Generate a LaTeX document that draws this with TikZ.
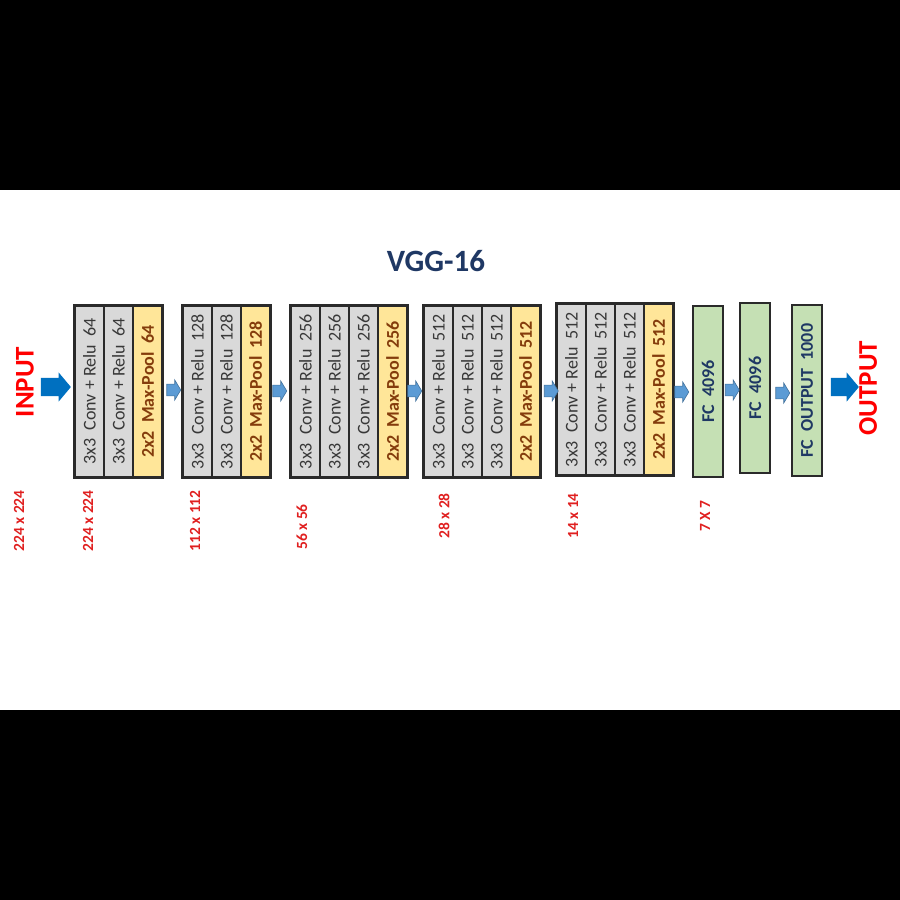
\documentclass[tikz,border=0pt]{standalone}
\usepackage{fontspec}
\setmainfont{Carlito}
\usetikzlibrary{shapes.arrows,fit}
\definecolor{convfill}{HTML}{D9D9D9}
\definecolor{convtext}{HTML}{383838}
\definecolor{poolfill}{HTML}{FFE699}
\definecolor{pooltext}{HTML}{843C0C}
\definecolor{fcfill}{HTML}{C5E0B4}
\definecolor{fctext}{HTML}{1F3864}
\definecolor{boxline}{HTML}{2A2A2A}
\definecolor{bigblue}{HTML}{0070C0}
\definecolor{smallblue}{HTML}{5B9BD5}
\definecolor{smallline}{HTML}{41719C}
\definecolor{dimred}{HTML}{E02020}
\definecolor{titlecol}{HTML}{1F3864}
\begin{document}
\begin{tikzpicture}[x=1pt,y=-1pt,
  col/.style={draw=boxline, line width=1.2pt, rotate=90, minimum width=171pt,
    minimum height=29pt, inner sep=0pt, anchor=center},
  conv/.style={col, fill=convfill, text=convtext, font=\fontsize{18}{18}\selectfont},
  pool/.style={col, fill=poolfill, text=pooltext, font=\fontsize{18}{18}\selectfont\bfseries},
  fcbox/.style={col, fill=fcfill, text=fctext, minimum height=30pt, line width=2pt,
    font=\fontsize{18}{18}\selectfont\bfseries},
  outerbox/.style={draw=boxline, line width=2pt, inner sep=0pt},
  dimlabel/.style={rotate=90, text=dimred, font=\fontsize{15.5}{15.5}\selectfont\bfseries, inner sep=0pt},
  iolabel/.style={rotate=90, text=red, font=\fontsize{27}{27}\selectfont\bfseries, inner sep=0pt},
  bigarrow/.style={single arrow, fill=bigblue, inner xsep=0pt, inner ysep=9pt, minimum height=30pt,
    minimum width=29pt, single arrow head extend=5.5pt, single arrow tip angle=100},
  smallarrow/.style={single arrow, fill=smallblue, draw=smallline, line width=0.6pt, inner xsep=0pt,
    inner ysep=5.5pt, minimum height=14pt, minimum width=20pt, single arrow head extend=4pt,
    single arrow tip angle=118}
]
\useasboundingbox (0,0) rectangle (900,900);
\fill[black] (0,0) rectangle (900,190);
\fill[black] (0,710) rectangle (900,900);

\node[text=titlecol, font=\fontsize{31}{31}\selectfont\bfseries] (title) at (436,261) {VGG-16};

% block 1
\node[conv] (c11) at (89.5,391.5) {3x3~~Conv + Relu~~64};
\node[conv] (c12) at (118.5,391.5) {3x3~~Conv + Relu~~64};
\node[pool] (p1) at (147.5,391.5) {2x2~~Max-Pool~~64};
\node[outerbox, fit=(c11)(p1)] (b1) {};
% block 2
\node[conv] (c21) at (197.5,391.5) {3x3~~Conv + Relu~~128};
\node[conv] (c22) at (226.5,391.5) {3x3~~Conv + Relu~~128};
\node[pool] (p2) at (255.5,391.5) {2x2~~Max-Pool~~128};
\node[outerbox, fit=(c21)(p2)] (b2) {};
% block 3
\node[conv] (c31) at (305.5,391.5) {3x3~~Conv + Relu~~256};
\node[conv] (c32) at (334.5,391.5) {3x3~~Conv + Relu~~256};
\node[conv] (c33) at (363.5,391.5) {3x3~~Conv + Relu~~256};
\node[pool] (p3) at (392.5,391.5) {2x2~~Max-Pool~~256};
\node[outerbox, fit=(c31)(p3)] (b3) {};
% block 4
\node[conv] (c41) at (438.5,391.5) {3x3~~Conv + Relu~~512};
\node[conv] (c42) at (467.5,391.5) {3x3~~Conv + Relu~~512};
\node[conv] (c43) at (496.5,391.5) {3x3~~Conv + Relu~~512};
\node[pool] (p4) at (525.5,391.5) {2x2~~Max-Pool~~512};
\node[outerbox, fit=(c41)(p4)] (b4) {};
% block 5
\node[conv] (c51) at (571.5,389.5) {3x3~~Conv + Relu~~512};
\node[conv] (c52) at (600.5,389.5) {3x3~~Conv + Relu~~512};
\node[conv] (c53) at (629.5,389.5) {3x3~~Conv + Relu~~512};
\node[pool] (p5) at (658.5,389.5) {2x2~~Max-Pool~~512};
\node[outerbox, fit=(c51)(p5)] (b5) {};
% FC
\node[fcbox] (fc1) at (708,391.5) {FC~~4096};
\node[fcbox, minimum width=170pt] (fc2) at (755,388) {FC~~4096};
\node[fcbox] (fc3) at (807,390.5) {FC~~OUTPUT~~1000};

% arrows
\node[bigarrow] (ain) at (52,387) {};
\node[bigarrow, minimum height=28pt] (aout) at (841,387) {};
\node[smallarrow] (a12) at (172,390) {};
\node[smallarrow] (a23) at (278,391) {};
\node[smallarrow] (a34) at (413,391) {};
\node[smallarrow] (a45) at (549.5,391) {};
\node[smallarrow] (a5f) at (680,392) {};
\node[smallarrow] (aff) at (730.5,390) {};
\node[smallarrow] (af3) at (781,393) {};

% io labels
\node[iolabel] (inlab) at (25,382) {INPUT};
\node[iolabel] (outlab) at (868,388) {OUTPUT};

% dims
\node[dimlabel] (d0) at (19,521) {224 x 224};
\node[dimlabel] (d1) at (88,521) {224 x 224};
\node[dimlabel] (d2) at (195,521) {112 x 112};
\node[dimlabel] (d3) at (302,527) {56 x 56};
\node[dimlabel] (d4) at (444,516) {28 x 28};
\node[dimlabel] (d5) at (573,516) {14 x 14};
\node[dimlabel] (d6) at (705,516) {7 X 7};
\end{tikzpicture}
\end{document}
